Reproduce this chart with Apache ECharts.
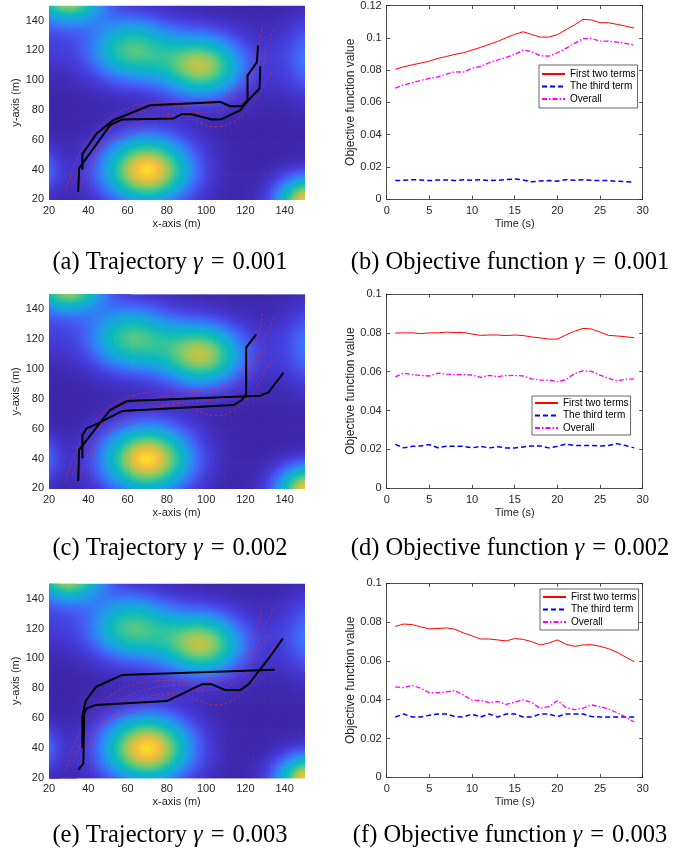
<!DOCTYPE html>
<html>
<head>
    <meta charset="utf-8">
    <script src="https://cdn.jsdelivr.net/npm/echarts@6/dist/echarts.min.js"></script>
    <style>
        html, body { margin: 0; padding: 0; background: #fff; }
        #main { width: 699px; height: 855px; }
    </style>
</head>
<body>
<div id="main"></div>
<script type="text/javascript">
    // ---- objective function data (time steps 1..29) ----
    var timeSteps = [1, 2, 3, 4, 5, 6, 7, 8, 9, 10, 11, 12, 13, 14, 15, 16, 17, 18, 19, 20, 21, 22, 23, 24, 25, 26, 27, 28, 29];

    var firstTwo001 = [0.0804, 0.0820, 0.0832, 0.0843, 0.0855, 0.0872, 0.0884, 0.0897, 0.0907, 0.0924, 0.0940, 0.0959, 0.0977, 0.1000, 0.1021, 0.1037, 0.1020, 0.1004, 0.1004, 0.1019, 0.1050, 0.1079, 0.1114, 0.1110, 0.1093, 0.1093, 0.1083, 0.1072, 0.1060];
    var third001 = [0.0114, 0.0116, 0.0120, 0.0118, 0.0114, 0.0118, 0.0118, 0.0114, 0.0120, 0.0116, 0.0120, 0.0114, 0.0116, 0.0120, 0.0124, 0.0118, 0.0107, 0.0112, 0.0114, 0.0110, 0.0120, 0.0116, 0.0120, 0.0116, 0.0114, 0.0114, 0.0110, 0.0107, 0.0105];
    var overall001 = [0.0688, 0.0707, 0.0721, 0.0736, 0.0748, 0.0758, 0.0775, 0.0789, 0.0787, 0.0810, 0.0822, 0.0845, 0.0862, 0.0878, 0.0897, 0.0924, 0.0913, 0.0888, 0.0886, 0.0907, 0.0934, 0.0965, 0.0994, 0.0996, 0.0979, 0.0979, 0.0973, 0.0965, 0.0955];

    var firstTwo002 = [0.0799, 0.0800, 0.0800, 0.0796, 0.0800, 0.0800, 0.0804, 0.0802, 0.0802, 0.0794, 0.0787, 0.0789, 0.0789, 0.0786, 0.0789, 0.0786, 0.0779, 0.0774, 0.0768, 0.0768, 0.0789, 0.0808, 0.0823, 0.0820, 0.0804, 0.0787, 0.0784, 0.0780, 0.0775];
    var third002 = [0.0226, 0.0208, 0.0216, 0.0218, 0.0225, 0.0209, 0.0216, 0.0216, 0.0216, 0.0208, 0.0216, 0.0208, 0.0214, 0.0208, 0.0208, 0.0213, 0.0218, 0.0218, 0.0208, 0.0216, 0.0228, 0.0220, 0.0220, 0.0220, 0.0218, 0.0220, 0.0230, 0.0220, 0.0208];
    var overall002 = [0.0573, 0.0593, 0.0585, 0.0581, 0.0578, 0.0593, 0.0588, 0.0585, 0.0585, 0.0583, 0.0571, 0.0581, 0.0575, 0.0580, 0.0581, 0.0578, 0.0563, 0.0557, 0.0557, 0.0549, 0.0559, 0.0590, 0.0604, 0.0602, 0.0583, 0.0566, 0.0552, 0.0561, 0.0563];

    var firstTwo003 = [0.0778, 0.0790, 0.0787, 0.0775, 0.0765, 0.0767, 0.0770, 0.0763, 0.0744, 0.0729, 0.0713, 0.0713, 0.0708, 0.0703, 0.0715, 0.0711, 0.0699, 0.0682, 0.0692, 0.0708, 0.0686, 0.0675, 0.0682, 0.0684, 0.0675, 0.0663, 0.0644, 0.0620, 0.0596];
    var third003 = [0.0311, 0.0326, 0.0311, 0.0311, 0.0320, 0.0326, 0.0326, 0.0313, 0.0311, 0.0326, 0.0311, 0.0326, 0.0311, 0.0326, 0.0326, 0.0311, 0.0311, 0.0326, 0.0326, 0.0313, 0.0326, 0.0326, 0.0326, 0.0313, 0.0311, 0.0311, 0.0311, 0.0311, 0.0311];
    var overall003 = [0.0466, 0.0462, 0.0474, 0.0459, 0.0436, 0.0436, 0.0440, 0.0447, 0.0424, 0.0397, 0.0397, 0.0385, 0.0390, 0.0376, 0.0387, 0.0399, 0.0385, 0.0356, 0.0364, 0.0395, 0.0361, 0.0349, 0.0356, 0.0373, 0.0364, 0.0352, 0.0333, 0.0311, 0.0285];

    // ---- background field: bumps ----
    var bumpX = [70, 62, 98, 30, 153, 5, 168, 15];
    var bumpY = [40, 121, 110, 157, 19, 40, 115, 125];
    var bumpPeak = [0.95, 0.63, 0.78, 0.85, 0.95, 0.6, 0.45, 0.1];
    var bumpSpread = [15.5, 15, 14.5, 12, 11.5, 11, 18, 15];

    // ---- trajectories (x, y in m) ----
    var pathA001 = [[34.9, 25.1], [35.3, 40.8], [51.1, 69.8], [57.1, 73.6], [83.4, 74.3], [87.6, 77.2], [92.7, 77.2], [102.9, 73.6], [108, 73.8], [117.4, 79.9], [121.6, 86.6], [127.2, 94.4], [127.6, 109.4]];
    var pathB001 = [[37, 40.1], [37, 50.4], [44.3, 64.2], [52.8, 73.2], [71.5, 83.2], [107.2, 85.4], [112.3, 82.5], [118.2, 82.5], [121.1, 86.6], [121.1, 103.3], [125.9, 112.2], [126.4, 123.4]];
    var pathA002 = [[34.9, 24.9], [35.3, 45.7], [51.1, 72.5], [59.6, 78.5], [127.6, 82.1], [131.8, 84.4], [139.4, 97.5]];
    var pathB002 = [[37, 40.1], [37, 55.7], [39.2, 60.2], [46, 64.2], [57.1, 71.8], [114, 75.8], [118.2, 79.2], [120.4, 83], [120.4, 114.3], [125.5, 123.2]];
    var pathA003 = [[34.9, 25.2], [37.5, 29.6], [37.9, 63.2], [39.2, 66.5], [43.5, 68.7], [80, 71.4], [97.8, 82.6], [102.9, 82.6], [109.7, 78.8], [117.4, 78.8], [121.6, 82.6], [133, 102], [139.1, 113.4]];
    var pathB003 = [[37, 40.1], [37, 60.9], [38.7, 71.4], [44, 81], [57.1, 88.8], [134.9, 92.4]];

    // corridor boundaries (red dashed), same in all three maps
    var corridorL = [[28.2, 24], [33.3, 44.1], [37.5, 55.3], [42.6, 64.2], [49.4, 73.2], [59.6, 81], [73.2, 84.8], [93.6, 85.5], [107.2, 87.7], [115.7, 94.4], [120.8, 104.5], [125.9, 120.2], [128.7, 136.9]];
    var corridorM1 = [[32, 30], [36, 42], [41, 53], [46, 61], [53, 69], [62, 76], [76, 81], [90, 82.5], [102, 83.9], [112, 86.5], [118, 92], [123, 101], [127, 112], [131, 123], [134.3, 134]];
    var corridorM2 = [[36, 28], [39, 40], [43, 50], [49, 59], [57, 66], [67, 72.5], [76, 76], [90, 78], [102, 78.8], [111, 81], [117, 85.5], [122, 93], [127, 104], [131, 115.7]];
    var corridorR = [[41.4, 25.2], [41.8, 39.7], [44.3, 50.8], [49.4, 57.5], [57.9, 62], [68.1, 66.5], [76.6, 74.3], [88.5, 76.6], [93.6, 73.2], [103.8, 68.7], [110.6, 69.9], [117.4, 75.4], [124.2, 84.4], [130.1, 97.8], [134.3, 107.8]];

    var parula = ['#3e26a8', '#4538d4', '#4659f2', '#2f84f5', '#1ca4e0', '#08b6c3', '#2ac3a2', '#6fca73', '#b9c54b', '#f9be3c', '#f9fb15'];

    var font = 'Liberation Sans, Arial, sans-serif';
    var axisColor = '#262626';
    var cellStep = 1.3;

    // sample the field onto cells
    var fieldCells = [];
    for (var i = 0; i < 100; i++) {
        for (var j = 0; j < 100; j++) {
            var cx = 20 + cellStep * (i + 0.5), cy = 20 + cellStep * (j + 0.5), v = 0;
            for (var k = 0; k < bumpX.length; k++) {
                var dx = cx - bumpX[k], dy = cy - bumpY[k];
                v += bumpPeak[k] * Math.exp(-(dx * dx + dy * dy) / (2 * bumpSpread[k] * bumpSpread[k]));
            }
            fieldCells.push([cx, cy, Math.min(v, 1)]);
        }
    }

    function renderCell(params, api) {
        var x = api.value(0), y = api.value(1);
        var p0 = api.coord([x - cellStep / 2, y + cellStep / 2]);
        var p1 = api.coord([x + cellStep / 2, y - cellStep / 2]);
        return {
            type: 'rect',
            shape: {x: p0[0], y: p0[1], width: p1[0] - p0[0] + 0.7, height: p1[1] - p0[1] + 0.7},
            style: {fill: api.visual('color')}
        };
    }

    var grids = [
        {left: 49, top: 5.8, width: 255.3, height: 193.5},
        {left: 386.7, top: 5.3, width: 256, height: 193.7},
        {left: 49, top: 294.4, width: 255.3, height: 193.9},
        {left: 386.7, top: 294, width: 256, height: 194.3},
        {left: 49, top: 583.8, width: 255.3, height: 193.9},
        {left: 386.7, top: 583.3, width: 256, height: 194}
    ];

    var xAxes = [], yAxes = [], series = [], heatSeries = [], legends = [];
    var labelStyle = {color: axisColor, fontSize: 11, fontFamily: font};
    var nameStyle = {color: axisColor, fontSize: 11, fontFamily: font};

    function heatPanel(g, trajs) {
        var xi = xAxes.length, yi = yAxes.length;
        xAxes.push({
            type: 'value', gridIndex: g, min: 20, max: 150, interval: 20,
            axisLine: {show: false}, axisTick: {show: false}, splitLine: {show: false},
            axisLabel: Object.assign({showMaxLabel: false, margin: 6}, labelStyle),
            name: 'x-axis (m)', nameLocation: 'middle', nameGap: 19, nameTextStyle: nameStyle
        });
        yAxes.push({
            type: 'value', gridIndex: g, min: 20, max: 150, interval: 20,
            axisLine: {show: false}, axisTick: {show: false}, splitLine: {show: false},
            axisLabel: Object.assign({showMaxLabel: false, margin: 5}, labelStyle),
            name: 'y-axis (m)', nameLocation: 'middle', nameGap: 25, nameTextStyle: nameStyle
        });
        heatSeries.push(series.length);
        series.push({
            type: 'custom', xAxisIndex: xi, yAxisIndex: yi, data: fieldCells,
            renderItem: renderCell, clip: true, silent: true, z: 1
        });
        [corridorL, corridorM1, corridorM2, corridorR].forEach(function (c) {
            series.push({
                type: 'line', xAxisIndex: xi, yAxisIndex: yi, data: c, smooth: 0.3,
                symbol: 'none', silent: true, z: 3,
                lineStyle: {color: 'rgba(222,40,60,0.85)', width: 0.8, type: [3, 2]}
            });
        });
        trajs.forEach(function (t) {
            series.push({
                type: 'line', xAxisIndex: xi, yAxisIndex: yi, data: t,
                symbol: 'none', silent: true, z: 4,
                lineStyle: {color: '#000', width: 2}
            });
        });
    }

    function boxAxis(g, pos, min, max, interval, extra) {
        return Object.assign({
            type: 'value', gridIndex: g, position: pos, min: min, max: max, interval: interval,
            axisLine: {show: true, onZero: false, lineStyle: {color: axisColor, width: 0.8}},
            axisTick: {show: true, inside: true, length: 3.5, lineStyle: {color: axisColor, width: 0.8}},
            splitLine: {show: false},
            axisLabel: {show: false}
        }, extra || {});
    }

    function linePanel(g, yMax, first, third, overall, legendBox) {
        var xi = xAxes.length, yi = yAxes.length;
        xAxes.push(boxAxis(g, 'bottom', 0, 30, 5, {
            axisLabel: Object.assign({margin: 6}, labelStyle),
            name: 'Time (s)', nameLocation: 'middle', nameGap: 19, nameTextStyle: nameStyle
        }));
        xAxes.push(boxAxis(g, 'top', 0, 30, 5));
        yAxes.push(boxAxis(g, 'left', 0, yMax, 0.02, {
            axisLabel: Object.assign({
                margin: 5, formatter: function (v) { return String(+v.toFixed(2)); }
            }, labelStyle),
            name: 'Objective function value', nameLocation: 'middle', nameGap: 28,
            nameTextStyle: {color: axisColor, fontSize: 12, fontFamily: font}
        }));
        yAxes.push(boxAxis(g, 'right', 0, yMax, 0.02));

        function pairs(vals) { return timeSteps.map(function (t, i) { return [t, vals[i]]; }); }
        series.push({
            name: 'First two terms', type: 'line', xAxisIndex: xi, yAxisIndex: yi,
            data: pairs(first), symbol: 'none', z: 3,
            lineStyle: {color: '#ff0000', width: 1}, itemStyle: {color: '#ff0000'}
        });
        series.push({
            name: 'The third term', type: 'line', xAxisIndex: xi, yAxisIndex: yi,
            data: pairs(third), symbol: 'none', z: 3,
            lineStyle: {color: '#0000ff', width: 1.5, type: [5, 3]}, itemStyle: {color: '#0000ff'}
        });
        series.push({
            name: 'Overall', type: 'line', xAxisIndex: xi, yAxisIndex: yi,
            data: pairs(overall), symbol: 'none', z: 3,
            lineStyle: {color: '#ff00ff', width: 1.3, type: [5, 2, 1.5, 2]}, itemStyle: {color: '#ff00ff'}
        });
        legends.push({
            orient: 'vertical', left: legendBox[0], top: legendBox[1],
            data: ['First two terms', 'The third term', 'Overall'],
            selectedMode: false, itemWidth: 23, itemHeight: 8, itemGap: 0.5,
            itemStyle: {opacity: 0},
            padding: legendBox[2], borderColor: axisColor, borderWidth: 0.7, borderRadius: 0,
            backgroundColor: '#fff', z: 10,
            textStyle: {fontSize: 10, fontFamily: font, color: '#000', lineHeight: 12}
        });
    }

    heatPanel(0, [pathA001, pathB001]);
    linePanel(1, 0.12, firstTwo001, third001, overall001, [539, 65, [3, 2, 3, 2]]);
    heatPanel(2, [pathA002, pathB002]);
    linePanel(3, 0.1, firstTwo002, third002, overall002, [532, 396, [1, 2, 1, 2]]);
    heatPanel(4, [pathA003, pathB003]);
    linePanel(5, 0.1, firstTwo003, third003, overall003, [540, 589, [2, 2, 2, 2]]);

    // ---- sub-figure captions ----
    var captionRows = [263, 549, 836];
    var captionGamma = ['0.001', '0.002', '0.003'];
    var captionLetters = [['a', 'b'], ['c', 'd'], ['e', 'f']];
    var serif = 'Liberation Serif, Times New Roman, serif';
    var graphics = [];
    captionRows.forEach(function (y, r) {
        [['Trajectory', 170], ['Objective function', 510]].forEach(function (c, col) {
            graphics.push({
                type: 'text', x: c[1], y: y, silent: true,
                style: {
                    text: '{n|(' + captionLetters[r][col] + ') ' + c[0] + ' }{g|γ}{e|=}{n|' + captionGamma[r] + '}',
                    align: 'center', verticalAlign: 'middle', textAlign: 'center', textVerticalAlign: 'middle',
                    fill: '#000',
                    rich: {
                        n: {fontFamily: serif, fontSize: 24.5, fill: '#000', color: '#000'},
                        g: {fontFamily: serif, fontSize: 24.5, fontStyle: 'italic', fill: '#000', color: '#000'},
                        e: {fontFamily: serif, fontSize: 24.5, fill: '#000', color: '#000', padding: [0, 8, 0, 8]}
                    }
                }
            });
        });
    });

    var myChart = echarts.init(document.getElementById('main'));
    var option = {
        animation: false,
        backgroundColor: '#fff',
        grid: grids,
        xAxis: xAxes,
        yAxis: yAxes,
        visualMap: {
            type: 'continuous', show: false, min: 0, max: 1, dimension: 2,
            seriesIndex: heatSeries, inRange: {color: parula}
        },
        legend: legends,
        graphic: graphics,
        series: series
    };
    myChart.setOption(option);
</script>
</body>
</html>
